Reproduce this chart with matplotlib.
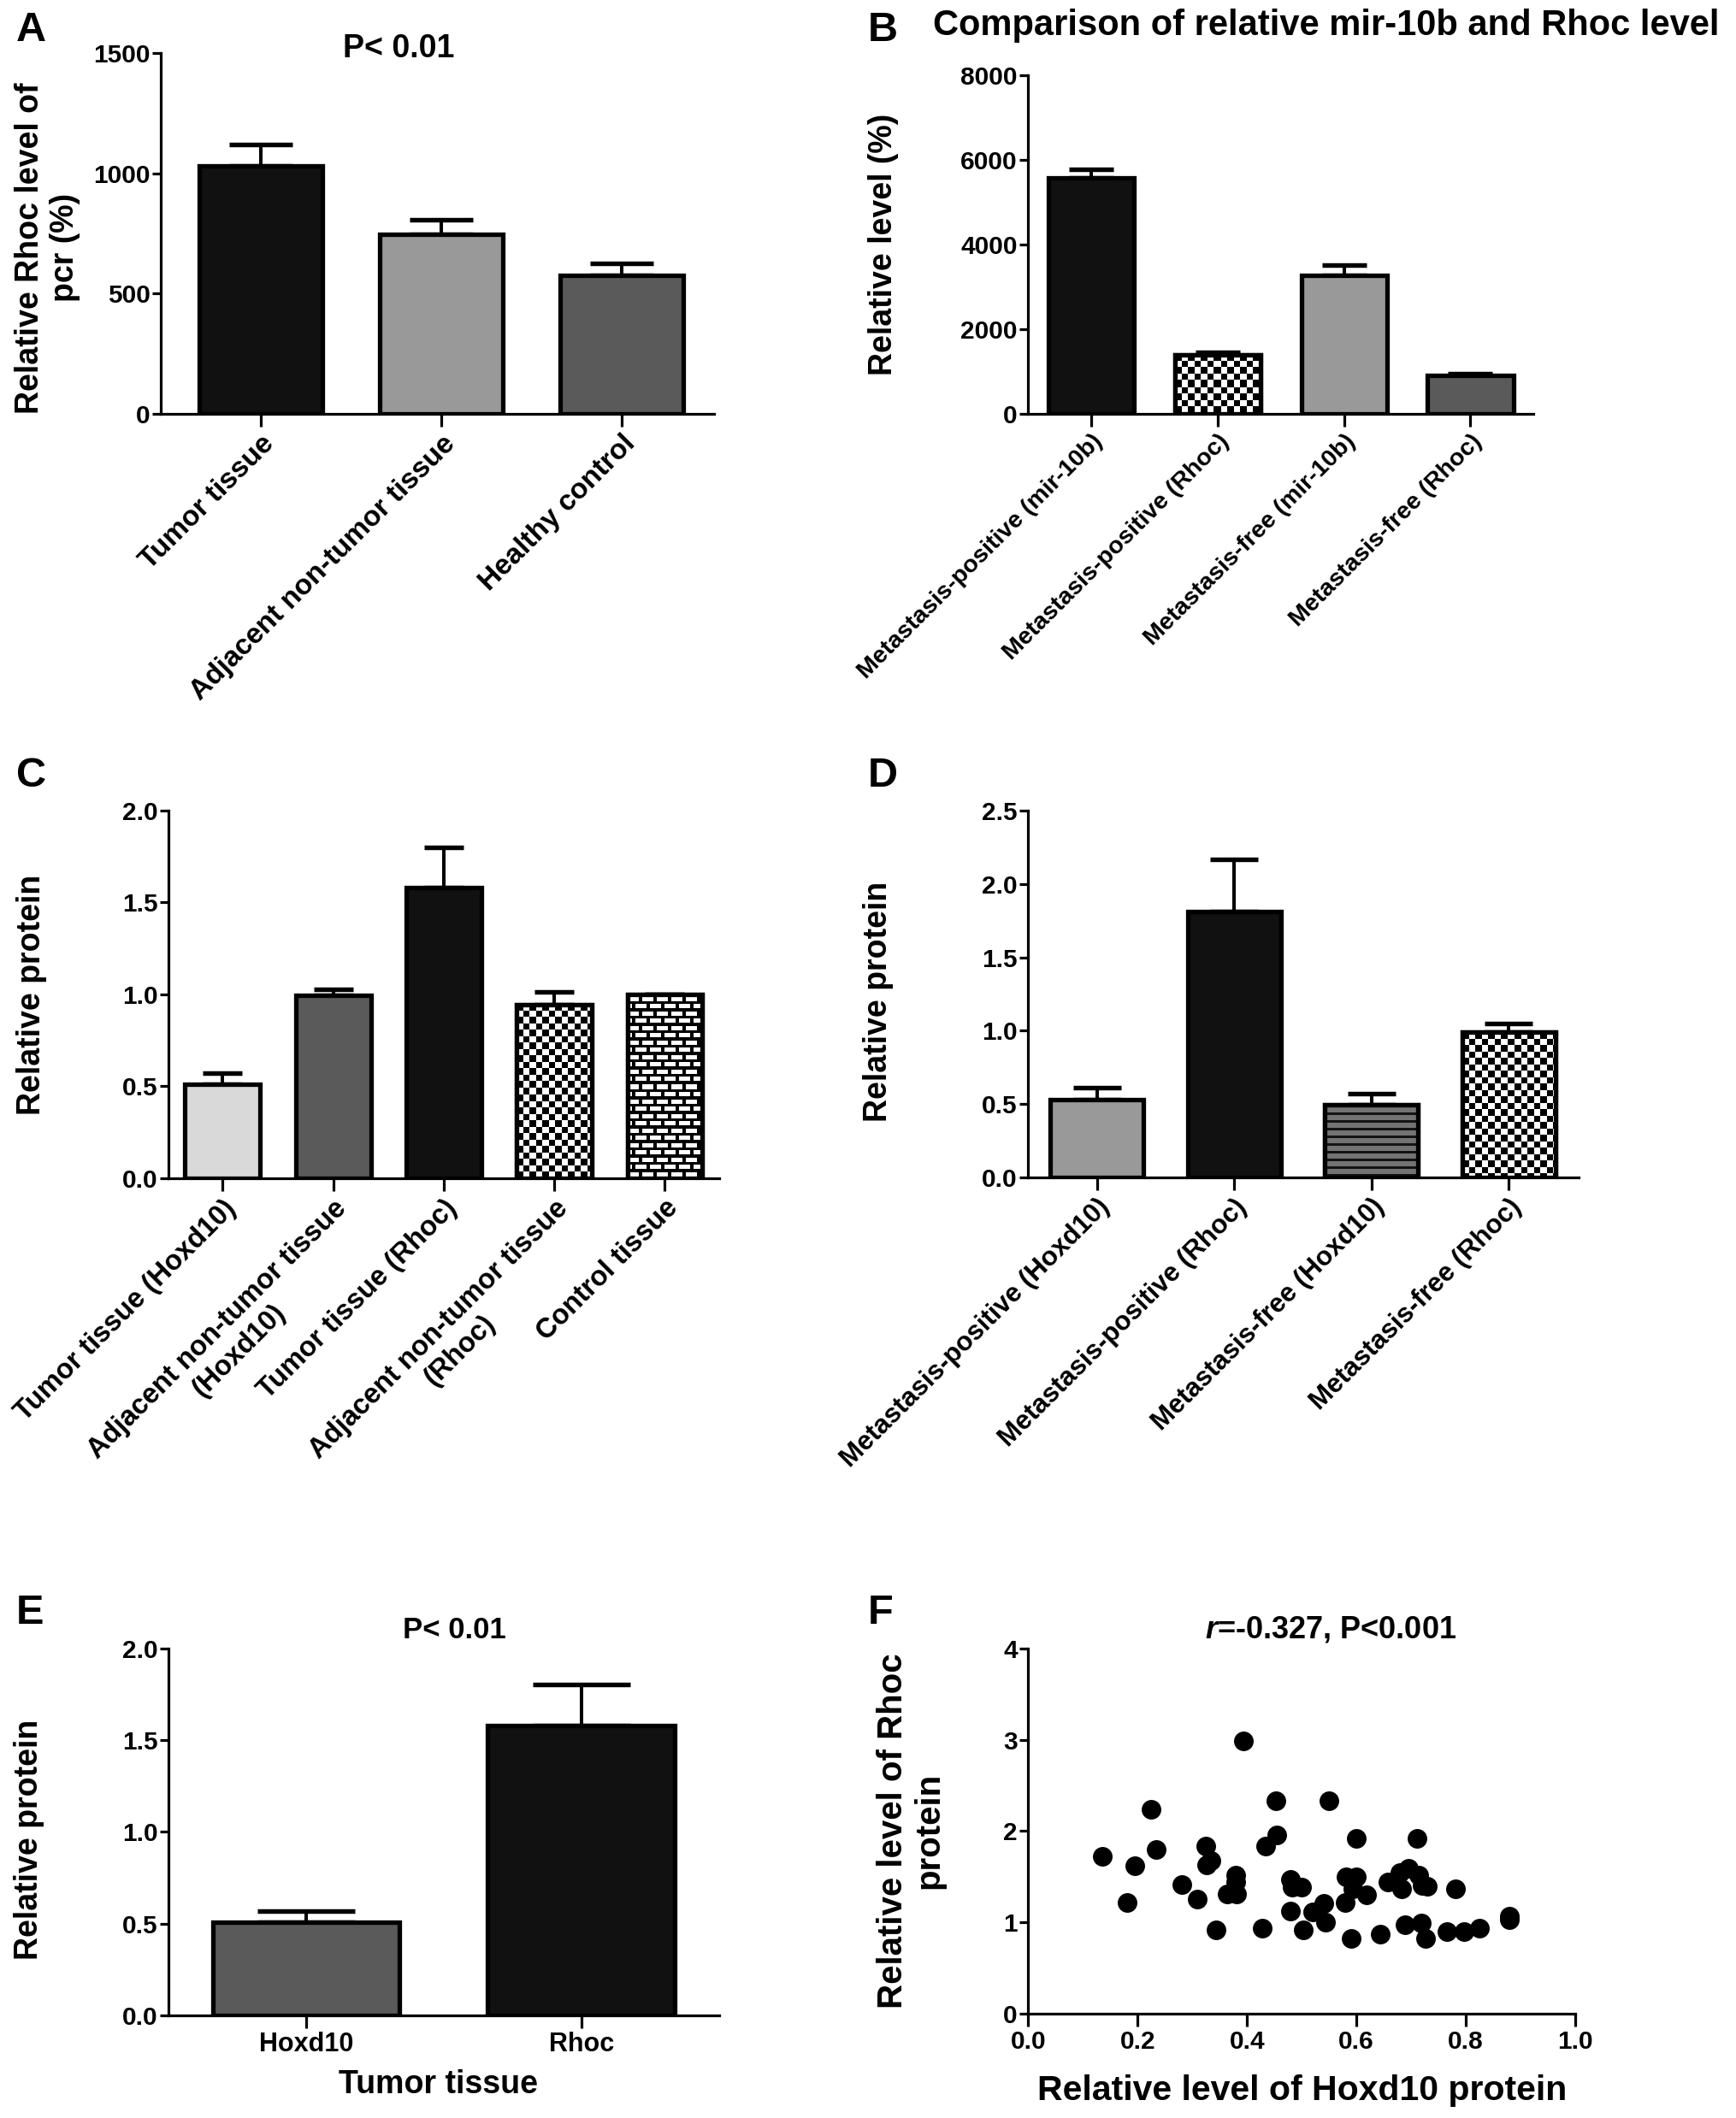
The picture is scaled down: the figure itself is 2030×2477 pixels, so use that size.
import numpy as np
import matplotlib
matplotlib.use("Agg")
import matplotlib.pyplot as plt

# ---- data ----
a_labels = ["Tumor tissue", "Adjacent non-tumor tissue", "Healthy control"]
a_mean = [1030, 745, 575]
a_err = [90, 60, 52]

b_labels = ["Metastasis-positive (mir-10b)", "Metastasis-positive (Rhoc)",
            "Metastasis-free (mir-10b)", "Metastasis-free (Rhoc)"]
b_mean = [5580, 1400, 3270, 905]
b_err = [195, 60, 245, 35]

c_labels = ["Tumor tissue (Hoxd10)", "Adjacent non-tumor tissue\n(Hoxd10)",
            "Tumor tissue (Rhoc)", "Adjacent non-tumor tissue\n(Rhoc)", "Control tissue"]
c_mean = [0.51, 0.995, 1.58, 0.945, 1.0]
c_err = [0.06, 0.032, 0.22, 0.07, 0.0]

d_labels = ["Metastasis-positive (Hoxd10)", "Metastasis-positive (Rhoc)",
            "Metastasis-free (Hoxd10)", "Metastasis-free (Rhoc)"]
d_mean = [0.53, 1.81, 0.495, 0.99]
d_err = [0.083, 0.36, 0.073, 0.056]

e_labels = ["Hoxd10", "Rhoc"]
e_mean = [0.506, 1.582]
e_err = [0.06, 0.222]

f_x = [0.135, 0.180, 0.195, 0.224, 0.234, 0.281, 0.309, 0.324, 0.326, 0.334,
       0.343, 0.363, 0.379, 0.380, 0.381, 0.394, 0.427, 0.434, 0.452, 0.455,
       0.480, 0.482, 0.480, 0.499, 0.502, 0.520, 0.540, 0.544, 0.550, 0.579,
       0.581, 0.591, 0.594, 0.599, 0.600, 0.618, 0.644, 0.658, 0.682, 0.680,
       0.688, 0.695, 0.710, 0.713, 0.718, 0.720, 0.727, 0.730, 0.766, 0.781,
       0.796, 0.825, 0.880, 0.880]
f_y = [1.725, 1.220, 1.624, 2.234, 1.796, 1.418, 1.250, 1.837, 1.631, 1.680,
       0.913, 1.306, 1.519, 1.437, 1.306, 2.990, 0.932, 1.837, 2.335, 1.961,
       1.474, 1.388, 1.119, 1.381, 0.920, 1.111, 1.205, 0.999, 2.335, 1.212,
       1.493, 0.819, 1.362, 1.493, 1.923, 1.298, 0.868, 1.437, 1.362, 1.549,
       0.969, 1.594, 1.923, 1.512, 0.988, 1.407, 0.827, 1.399, 0.894, 1.362,
       0.894, 0.932, 1.025, 1.070]

# bar fills (colour or pattern name)
a_fill = ["#111111", "#999999", "#5a5a5a"]
b_fill = ["#111111", "checker", "#999999", "#5a5a5a"]
c_fill = ["#d9d9d9", "#5a5a5a", "#111111", "checker", "brick"]
d_fill = ["#999999", "#111111", "stripes", "checker"]
e_fill = ["#5a5a5a", "#111111"]

FONT = "Liberation Sans"
DPI = 100
plt.rcParams["font.family"] = FONT
plt.rcParams["font.weight"] = "bold"
plt.rcParams["mathtext.fontset"] = "custom"
plt.rcParams["mathtext.it"] = FONT + ":italic:bold"
plt.rcParams["mathtext.rm"] = FONT + ":bold"

fig = plt.figure(figsize=(20.31, 24.77), dpi=DPI)


def pattern_image(kind, wpx, hpx):
    yy, xx = np.mgrid[0:hpx, 0:wpx].astype(float)
    if kind == "checker":
        s = 7.5
        return (((xx // s) + (yy // s)) % 2).astype(float)
    if kind == "brick":
        py, px = 8.5, 17.0
        row = (yy // py)
        shift = (row % 2) * (px / 2)
        white = ((yy % py) >= 3.5) & (((xx + shift) % px) < 13)
        return white.astype(float)
    if kind == "stripes":
        return np.where((yy % 9) < 2.6, 0.08, 0.45)
    return np.ones((hpx, wpx))


def style_axes(ax):
    for s in ["top", "right"]:
        ax.spines[s].set_visible(False)
    for s in ["left", "bottom"]:
        ax.spines[s].set_linewidth(2.3)
    ax.tick_params(axis="y", direction="out", length=7, width=2.3, labelsize=21.5, pad=2)
    ax.tick_params(axis="x", direction="out", length=11, width=2.3, pad=3)


def bar_panel(rect, mean, err, fills, labels, xlim, ylim, yticks, yfmt,
              label_size, rotate=True):
    ax = fig.add_axes(rect)
    x = np.arange(len(mean))
    ax.set_xlim(*xlim)
    ax.set_ylim(*ylim)
    style_axes(ax)
    width = 0.68
    # bar width in points for the cap size
    p0 = ax.transData.transform((0, 0))
    p1 = ax.transData.transform((width, 0))
    bar_pt = (p1[0] - p0[0]) * 72 / DPI
    ax.errorbar(x, mean, yerr=[np.zeros(len(err)), err], fmt="none",
                ecolor="black", elinewidth=2.9, capsize=bar_pt * 0.26,
                capthick=3.9, zorder=1)
    for xi, m, f in zip(x, mean, fills):
        solid = f.startswith("#")
        bar = ax.bar(xi, m, width=width, color=f if solid else "white",
                     edgecolor="black", linewidth=3.8, zorder=2)[0]
        if not solid:
            q0 = ax.transData.transform((xi - width / 2, 0))
            q1 = ax.transData.transform((xi + width / 2, m))
            wpx = max(int(round(q1[0] - q0[0])), 1)
            hpx = max(int(round(q1[1] - q0[1])), 1)
            img = pattern_image(f, wpx, hpx)
            im = ax.imshow(img, cmap="gray", vmin=0, vmax=1, interpolation="nearest",
                           extent=(xi - width / 2, xi + width / 2, 0, m),
                           aspect="auto", zorder=2.1)
            im.set_clip_path(bar)
            ax.bar(xi, m, width=width, facecolor="none", edgecolor="black",
                   linewidth=3.8, zorder=2.2)
    ax.set_xlim(*xlim)
    ax.set_ylim(*ylim)
    ax.set_xticks(x)
    if rotate:
        ax.set_xticklabels(labels, rotation=45, ha="right", va="top",
                           rotation_mode="anchor", fontsize=label_size,
                           fontweight="bold", multialignment="center")
    else:
        ax.set_xticklabels(labels, fontsize=label_size, fontweight="bold")
    ax.set_yticks(yticks)
    ax.set_yticklabels([yfmt.format(v) for v in yticks])
    return ax


def set_ylab(ax, text, xa, ya, size=27):
    ax.set_ylabel(text, fontsize=size, fontweight="bold", linespacing=1.15)
    ax.yaxis.set_label_coords(xa, ya)
    ax.yaxis.label.set_va("center")


# ---- A ----
axA = bar_panel([0.0926, 0.8046, 0.3184, 0.1704], a_mean, a_err, a_fill, a_labels,
                (-0.555, 2.51), (0, 1500), [0, 500, 1000, 1500], "{:.0f}", 24)
set_ylab(axA, "Relative Rhoc level of\npcr (%)", -0.205, 0.46)
axA.text(0.43, 1.012, "P< 0.01", transform=axA.transAxes, ha="center", va="center",
         fontsize=27, fontweight="bold")

# ---- B ----
axB = bar_panel([0.592, 0.8046, 0.291, 0.1599], b_mean, b_err, b_fill, b_labels,
                (-0.5, 3.5), (0, 8000), [0, 2000, 4000, 6000, 8000], "{:.0f}", 20.5)
set_ylab(axB, "Relative level (%)", -0.286, 0.5)
fig.text(0.7637, 0.988, "Comparison of relative mir-10b and Rhoc level",
         ha="center", va="center", fontsize=30, fontweight="bold")

# ---- C ----
axC = bar_panel([0.097, 0.4437, 0.317, 0.1736], c_mean, c_err, c_fill, c_labels,
                (-0.49, 4.49), (0, 2.0), [0, 0.5, 1.0, 1.5, 2.0], "{:.1f}", 23.5)
set_ylab(axC, "Relative protein", -0.249, 0.5)

# ---- D ----
axD = bar_panel([0.592, 0.4441, 0.317, 0.1732], d_mean, d_err, d_fill, d_labels,
                (-0.5, 3.51), (0, 2.5), [0, 0.5, 1.0, 1.5, 2.0, 2.5], "{:.1f}", 22.5)
set_ylab(axD, "Relative protein", -0.272, 0.48)

# ---- E ----
axE = bar_panel([0.097, 0.0485, 0.317, 0.1732], e_mean, e_err, e_fill, e_labels,
                (-0.5, 1.5), (0, 2.0), [0, 0.5, 1.0, 1.5, 2.0], "{:.1f}", 22,
                rotate=False)
set_ylab(axE, "Relative protein", -0.253, 0.48)
axE.set_xlabel("Tumor tissue", fontsize=27, fontweight="bold")
axE.xaxis.set_label_coords(0.49, -0.19)
axE.xaxis.label.set_va("center")
axE.text(0.52, 1.05, "P< 0.01", transform=axE.transAxes, ha="center", va="center",
         fontsize=25, fontweight="bold")

# ---- F ----
axF = fig.add_axes([0.592, 0.0493, 0.315, 0.1724])
style_axes(axF)
axF.scatter(f_x, f_y, s=240, color="black", zorder=3, clip_on=False)
axF.set_xlim(0, 1.0)
axF.set_ylim(0, 4)
axF.set_xticks([0, 0.2, 0.4, 0.6, 0.8, 1.0])
axF.set_xticklabels(["0.0", "0.2", "0.4", "0.6", "0.8", "1.0"], fontsize=21.5)
axF.set_yticks([0, 1, 2, 3, 4])
axF.set_yticklabels(["0", "1", "2", "3", "4"])
set_ylab(axF, "Relative level of Rhoc\nprotein", -0.214, 0.5, size=29)
axF.set_xlabel("Relative level of Hoxd10 protein", fontsize=29.5, fontweight="bold")
axF.xaxis.set_label_coords(0.5, -0.21)
axF.xaxis.label.set_va("center")
axF.text(0.553, 1.05, r"$\mathit{r}$=-0.327, P<0.001", transform=axF.transAxes,
         ha="center", va="center", fontsize=26, fontweight="bold")

# ---- panel letters ----
for lab, lx, ty in [("A", 19, 13), ("B", 1015, 13), ("C", 19, 885),
                    ("D", 1015, 885), ("E", 19, 1864), ("F", 1015, 1864)]:
    fig.text(lx / 2031, 1 - ty / 2477, lab, ha="left", va="top",
             fontsize=35, fontweight="bold")

fig.savefig("out.png", dpi=DPI)
